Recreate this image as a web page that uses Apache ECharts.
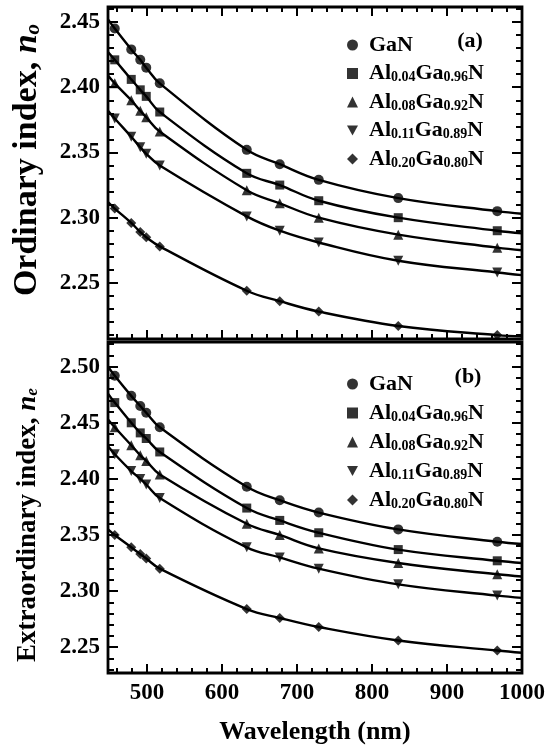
<!DOCTYPE html>
<html>
<head>
<meta charset="utf-8">
<script src="https://cdn.jsdelivr.net/npm/echarts@6/dist/echarts.min.js"></script>
<style>
  html, body { margin: 0; padding: 0; background: #fff; }
  #chart { width: 550px; height: 749px; }
</style>
</head>
<body>
<div id="chart"></div>
<script>
// Measurement wavelengths (nm)
const wavelength = [457, 479, 491, 499, 517, 633, 677, 729, 835, 967];
// Wavelengths where the fitted curves meet the frame
const fitEdges = [448, 1000];

const seriesNames = ['GaN', 'Al0.04Ga0.96N', 'Al0.08Ga0.92N', 'Al0.11Ga0.89N', 'Al0.20Ga0.80N'];

// Ordinary index n_o
const noGaN   = [2.445, 2.429, 2.421, 2.415, 2.403, 2.352, 2.341, 2.329, 2.315, 2.305];
const noAl004 = [2.421, 2.406, 2.398, 2.393, 2.381, 2.334, 2.325, 2.313, 2.300, 2.290];
const noAl008 = [2.403, 2.390, 2.382, 2.377, 2.366, 2.321, 2.311, 2.300, 2.287, 2.277];
const noAl011 = [2.376, 2.362, 2.354, 2.349, 2.340, 2.301, 2.290, 2.281, 2.267, 2.258];
const noAl020 = [2.307, 2.296, 2.289, 2.285, 2.278, 2.244, 2.236, 2.228, 2.217, 2.210];
const noFitStart = [2.452, 2.427, 2.409, 2.382, 2.312];
const noFitEnd   = [2.303, 2.288, 2.275, 2.256, 2.209];

// Extraordinary index n_e
const neGaN   = [2.492, 2.474, 2.465, 2.459, 2.446, 2.393, 2.381, 2.370, 2.355, 2.344];
const neAl004 = [2.468, 2.450, 2.441, 2.436, 2.424, 2.374, 2.363, 2.352, 2.337, 2.327];
const neAl008 = [2.446, 2.430, 2.421, 2.416, 2.404, 2.360, 2.350, 2.338, 2.325, 2.315];
const neAl011 = [2.422, 2.407, 2.400, 2.395, 2.383, 2.339, 2.330, 2.320, 2.306, 2.296];
const neAl020 = [2.350, 2.339, 2.333, 2.329, 2.320, 2.284, 2.276, 2.268, 2.256, 2.247];
const neFitStart = [2.500, 2.476, 2.453, 2.429, 2.355];
const neFitEnd   = [2.342, 2.325, 2.313, 2.294, 2.245];

// Tick labels
const wavelengthTicks = [500, 600, 700, 800, 900, 1000];
const ordinaryTicks = [2.25, 2.30, 2.35, 2.40, 2.45];
const extraordinaryTicks = [2.25, 2.30, 2.35, 2.40, 2.45, 2.50];

const noSets = [noGaN, noAl004, noAl008, noAl011, noAl020];
const neSets = [neGaN, neAl004, neAl008, neAl011, neAl020];

const SERIF = '"Liberation Serif", "Times New Roman", serif';
const symbols = ['circle', 'rect', 'triangle', 'path://M0,0L10,0L5,9Z', 'diamond'];
const symbolSizes = [10, 9, 10, 10, 10];

// Panel ranges
const xRange = [448, 1000];
const ordRange = [2.207, 2.4615];
const extRange = [2.227, 2.522];

function minorList(lo, hi, step, majors) {
  const out = [];
  const n = Math.round((hi - lo) / step);
  for (let i = 0; i <= n; i++) {
    const v = +(lo + i * step).toFixed(4);
    if (!majors.some(m => Math.abs(m - v) < 1e-6)) out.push(v);
  }
  return out;
}
const xMinor = minorList(460, 980, 20, wavelengthTicks);
const ordMinor = minorList(2.21, 2.46, 0.01, ordinaryTicks);
const extMinor = minorList(2.23, 2.52, 0.01, extraordinaryTicks);

const grids = [
  { left: 108, top: 7, width: 414, height: 332 },
  { left: 108, top: 342, width: 414, height: 331 }
];

function tickAxis(kind, gridIndex, position, range, values, len, labelValues) {
  const ax = {
    type: 'value', gridIndex, position, min: range[0], max: range[1],
    axisLine: { show: false }, splitLine: { show: false },
    axisTick: { show: true, inside: true, length: len, customValues: values,
                lineStyle: { color: '#000', width: 2 } },
    axisLabel: { show: false }
  };
  if (labelValues) {
    ax.axisLabel = {
      show: true, customValues: labelValues,
      fontFamily: SERIF, fontWeight: 'bold', fontSize: 23, color: '#000',
      margin: kind === 'x' ? 9 : 8,
      formatter: v => kind === 'x' ? String(v) : v.toFixed(2)
    };
  }
  return ax;
}

const xAxes = [
  tickAxis('x', 0, 'bottom', xRange, wavelengthTicks, 9),
  tickAxis('x', 0, 'bottom', xRange, xMinor, 5),
  tickAxis('x', 0, 'top', xRange, wavelengthTicks, 9),
  tickAxis('x', 0, 'top', xRange, xMinor, 5),
  tickAxis('x', 1, 'bottom', xRange, wavelengthTicks, 9, wavelengthTicks),
  tickAxis('x', 1, 'bottom', xRange, xMinor, 5)
];
xAxes[4].name = 'Wavelength (nm)';
xAxes[4].nameLocation = 'middle';
xAxes[4].nameGap = 46;
xAxes[4].nameTextStyle = { fontFamily: SERIF, fontWeight: 'bold', fontSize: 26, color: '#000' };

const yAxes = [
  tickAxis('y', 0, 'left', ordRange, ordinaryTicks, 10, ordinaryTicks),
  tickAxis('y', 0, 'left', ordRange, ordMinor, 6),
  tickAxis('y', 0, 'right', ordRange, ordinaryTicks, 10),
  tickAxis('y', 0, 'right', ordRange, ordMinor, 6),
  tickAxis('y', 1, 'left', extRange, extraordinaryTicks, 10, extraordinaryTicks),
  tickAxis('y', 1, 'left', extRange, extMinor, 6),
  tickAxis('y', 1, 'right', extRange, extraordinaryTicks, 10),
  tickAxis('y', 1, 'right', extRange, extMinor, 6)
];

const series = [];
function addPanel(sets, fitStart, fitEnd, xIdx, yIdx) {
  sets.forEach((vals, i) => {
    const pts = wavelength.map((w, k) => [w, vals[k]]);
    series.push({
      type: 'line', xAxisIndex: xIdx, yAxisIndex: yIdx, silent: true,
      data: [[fitEdges[0], fitStart[i]]].concat(pts, [[fitEdges[1], fitEnd[i]]]),
      smooth: 0.4, showSymbol: false, symbol: 'none',
      lineStyle: { color: '#000', width: 2.4 }, z: 2
    });
    series.push({
      type: 'scatter', name: seriesNames[i], xAxisIndex: xIdx, yAxisIndex: yIdx,
      data: pts, symbol: symbols[i], symbolSize: symbolSizes[i],
      itemStyle: { color: '#000' }, z: 3
    });
  });
}
addPanel(noSets, noFitStart, noFitEnd, 0, 0);
addPanel(neSets, neFitStart, neFitEnd, 4, 4);

const richLegend = {
  sp: { width: 6 },
  m: { fontFamily: SERIF, fontWeight: 'bold', fontSize: 22, lineHeight: 22, verticalAlign: 'top', color: '#000' },
  s: { fontFamily: SERIF, fontWeight: 'bold', fontSize: 14, lineHeight: 14, padding: [13, 0, 0, 0], verticalAlign: 'bottom', color: '#000' }
};
function legendText(name) {
  const m = name.match(/^Al([\d.]+)Ga([\d.]+)N$/);
  if (!m) return '{sp|}{m|' + name + '}{s| }';
  return '{sp|}{m|Al}{s|' + m[1] + '}{m|Ga}{s|' + m[2] + '}{m|N}';
}
function makeLegend(top, gap) {
  return {
    data: seriesNames, orient: 'vertical', left: 342, top, itemGap: gap,
    itemWidth: 11, itemHeight: 11, selectedMode: false,
    formatter: legendText,
    textStyle: { rich: richLegend }
  };
}

const option = {
  backgroundColor: '#fff',
  animation: false,
  grid: grids.map(g => Object.assign({ show: true, borderColor: '#000', borderWidth: 2.8, backgroundColor: 'transparent' }, g)),
  xAxis: xAxes,
  yAxis: yAxes,
  legend: [makeLegend(24, 1.5), makeLegend(363, 2)],
  graphic: [
    { type: 'text', x: 470, y: 41, style: { text: '(a)', font: 'bold 22px ' + SERIF, fill: '#000', align: 'center', verticalAlign: 'middle' } },
    { type: 'text', x: 468, y: 377, style: { text: '(b)', font: 'bold 22px ' + SERIF, fill: '#000', align: 'center', verticalAlign: 'middle' } },
    { type: 'text', x: 27, y: 160, rotation: Math.PI / 2,
      style: { text: '{t|Ordinary index, }{i|n}{o|o}', align: 'center', verticalAlign: 'middle',
        rich: {
          t: { fontFamily: SERIF, fontWeight: 'bold', fontSize: 34, lineHeight: 34, verticalAlign: 'top', color: '#000' },
          i: { fontFamily: SERIF, fontStyle: 'italic', fontWeight: 'bold', fontSize: 34, lineHeight: 34, verticalAlign: 'top', color: '#000' },
          o: { fontFamily: SERIF, fontStyle: 'italic', fontWeight: 'bold', fontSize: 21, lineHeight: 21, padding: [18, 0, 0, 0], verticalAlign: 'bottom', color: '#000' }
        } } },
    { type: 'text', x: 28, y: 525, rotation: Math.PI / 2,
      style: { text: '{t|Extraordinary index, }{i|n}{o|e}', align: 'center', verticalAlign: 'middle',
        rich: {
          t: { fontFamily: SERIF, fontWeight: 'bold', fontSize: 27, lineHeight: 27, verticalAlign: 'top', color: '#000' },
          i: { fontFamily: SERIF, fontStyle: 'italic', fontWeight: 'bold', fontSize: 27, lineHeight: 27, verticalAlign: 'top', color: '#000' },
          o: { fontFamily: SERIF, fontStyle: 'italic', fontWeight: 'bold', fontSize: 17, lineHeight: 17, padding: [15, 0, 0, 0], verticalAlign: 'bottom', color: '#000' }
        } } }
  ],
  series
};

const chart = echarts.init(document.getElementById('chart'), null, { renderer: 'canvas' });
chart.setOption(option);
</script>
</body>
</html>
